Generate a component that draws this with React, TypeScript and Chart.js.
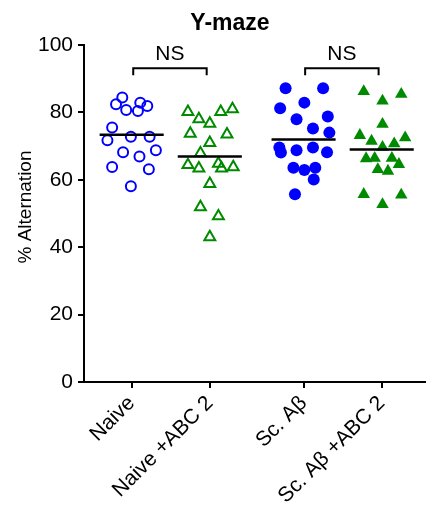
import React, { useEffect, useRef } from "react";
import { Chart, registerables } from "chart.js";

Chart.register(...registerables);

const FONT = "'Liberation Sans', Arial, sans-serif";

const chartTitle = "Y-maze";
const yAxisTitle = "% Alternation";
const categories = ["Naive", "Naive +ABC 2", "Sc. A\u03b2", "Sc. A\u03b2 +ABC 2"];
const groupCenters = [1, 2, 3.2, 4.2];
const yTickValues = [0, 20, 40, 60, 80, 100];

const naiveValues = [84.4, 82.4, 80.7, 80.4, 82.9, 81.9, 75.5, 71.7, 72.8, 72.8, 68.2, 66.9, 68.8, 63.8, 63.1, 58.1];
const naiveJitter = [-0.12, -0.2, -0.07, 0.08, 0.11, 0.2, -0.25, -0.31, -0.01, 0.23, -0.11, 0.1, 0.31, -0.25, 0.22, -0.01];

const naiveAbcValues = [80.2, 78.0, 76.7, 80.2, 81.0, 73.7, 73.5, 71.0, 67.9, 64.4, 63.4, 64.8, 63.4, 63.8, 58.8, 51.9, 49.2, 43.0];
const naiveAbcJitter = [-0.28, -0.14, 0, 0.14, 0.29, -0.25, 0.22, 0, -0.12, -0.28, -0.14, 0.11, 0.15, 0.3, 0, -0.12, 0.11, 0];

const scAbValues = [87.2, 87.2, 81.2, 82.9, 78.0, 78.8, 75.2, 74.0, 69.6, 68.1, 68.8, 69.6, 68.2, 63.6, 62.9, 63.6, 60.1, 55.7];
const scAbJitter = [-0.23, 0.25, -0.3, 0.01, -0.09, 0.31, 0.12, 0.33, -0.31, -0.29, -0.09, 0.12, 0.3, -0.13, 0.01, 0.15, 0.13, -0.11];

const scAbAbcValues = [86.2, 83.4, 85.4, 76.5, 73.2, 71.5, 69.7, 70.7, 72.5, 66.3, 66.4, 66.4, 64.6, 63.1, 62.6, 55.7, 52.7, 55.5];
const scAbAbcJitter = [-0.23, 0.01, 0.25, 0.01, -0.28, -0.13, 0.01, 0.16, 0.3, -0.2, -0.09, 0.13, 0.22, -0.05, 0.08, -0.23, 0.01, 0.25];

const bracketPairs = [[0, 1], [2, 3]];
const bracketLabels = ["NS", "NS"];
const bracketLevels = [93.1, 93.1];

const BLUE = "#0000ff";
const GREEN = "#008a00";

const mean = (a: number[]) => a.reduce((s, v) => s + v, 0) / a.length;

const toPoints = (vals: number[], jit: number[], center: number) =>
  vals.map((v, i) => ({ x: center + jit[i], y: v }));

const groups = [
  { values: naiveValues, jitter: naiveJitter, color: BLUE, style: "circle", filled: false, radius: 5 },
  { values: naiveAbcValues, jitter: naiveAbcJitter, color: GREEN, style: "triangle", filled: false, radius: 6.3 },
  { values: scAbValues, jitter: scAbJitter, color: BLUE, style: "circle", filled: true, radius: 6 },
  { values: scAbAbcValues, jitter: scAbAbcJitter, color: GREEN, style: "triangle", filled: true, radius: 7.2 },
];

const annotationPlugin = {
  id: "annotations",
  afterDraw(chart: any) {
    const { ctx, scales } = chart;
    const x = scales.x;
    const y = scales.y;
    ctx.save();
    ctx.fillStyle = "#000";
    ctx.textAlign = "center";
    ctx.textBaseline = "alphabetic";
    ctx.font = `bold 23px ${FONT}`;
    ctx.fillText(chartTitle, 230, 30);

    ctx.save();
    ctx.translate(26, 207);
    ctx.rotate(-Math.PI / 2);
    ctx.font = `19px ${FONT}`;
    ctx.textBaseline = "middle";
    ctx.fillText(yAxisTitle, 0, 0);
    ctx.restore();

    bracketPairs.forEach(([a, b], i) => {
      const x1 = x.getPixelForValue(groupCenters[a] + 0.02);
      const x2 = x.getPixelForValue(groupCenters[b] - 0.04);
      const yt = y.getPixelForValue(bracketLevels[i]);
      ctx.beginPath();
      ctx.moveTo(x1, yt + 7);
      ctx.lineTo(x1, yt);
      ctx.lineTo(x2, yt);
      ctx.lineTo(x2, yt + 7);
      ctx.lineWidth = 2;
      ctx.strokeStyle = "#000";
      ctx.stroke();
      ctx.font = `21px ${FONT}`;
      ctx.fillText(bracketLabels[i], (x1 + x2) / 2, yt - 8);
    });
    ctx.restore();
  },
};

export default function App() {
  const ref = useRef<HTMLCanvasElement | null>(null);

  useEffect(() => {
    if (!ref.current) return;
    const meanSets = groups.map((g, i) => {
      const m = mean(g.values);
      return {
        type: "line",
        data: [
          { x: groupCenters[i] - 0.41, y: m },
          { x: groupCenters[i] + 0.41, y: m },
        ],
        borderColor: "#000",
        borderWidth: 2.5,
        pointRadius: 0,
        showLine: true,
        order: 0,
      };
    });
    const pointSets = groups.map((g, i) => ({
      type: "scatter",
      data: toPoints(g.values, g.jitter, groupCenters[i]),
      pointStyle: g.style,
      pointRadius: g.radius,
      pointBorderWidth: g.filled ? 0 : 2,
      borderColor: g.color,
      backgroundColor: g.filled ? g.color : "rgba(0,0,0,0)",
      showLine: false,
      order: 1,
    }));

    const chart = new Chart(ref.current, {
      type: "scatter",
      data: { datasets: [...meanSets, ...pointSets] as any },
      options: {
        animation: false,
        responsive: false,
        layout: { padding: { top: 45, left: 0, right: 0, bottom: 0 } },
        plugins: { legend: { display: false }, tooltip: { enabled: false }, title: { display: false } },
        scales: {
          x: {
            type: "linear",
            min: 0.39,
            max: 4.75,
            afterBuildTicks: (scale: any) => {
              scale.ticks = groupCenters.map((v) => ({ value: v }));
            },
            afterFit: (scale: any) => {
              scale.height = 134;
            },
            grid: { drawOnChartArea: false, drawTicks: true, tickLength: 6, color: "#000", lineWidth: 2 },
            border: { display: true, color: "#000", width: 2 },
            ticks: {
              autoSkip: false,
              minRotation: 45,
              maxRotation: 45,
              padding: 3,
              color: "#000",
              font: { family: FONT, size: 21 },
              callback: (value: any) => {
                const idx = groupCenters.findIndex((c) => Math.abs(c - Number(value)) < 1e-6);
                return idx >= 0 ? categories[idx] : "";
              },
            },
          },
          y: {
            type: "linear",
            min: 0,
            max: 100,
            afterBuildTicks: (scale: any) => {
              scale.ticks = yTickValues.map((v) => ({ value: v }));
            },
            afterFit: (scale: any) => {
              scale.width = 84;
            },
            grid: { drawOnChartArea: false, drawTicks: true, tickLength: 6, color: "#000", lineWidth: 2 },
            border: { display: true, color: "#000", width: 2 },
            ticks: {
              padding: 5,
              color: "#000",
              font: { family: FONT, size: 21 },
            },
          },
        },
      } as any,
      plugins: [annotationPlugin],
    });
    return () => chart.destroy();
  }, []);

  return (
    <div style={{ position: "absolute", left: 0, top: 0, width: 433, height: 516 }}>
      <canvas ref={ref} width={433} height={516} style={{ display: "block" }} />
    </div>
  );
}
